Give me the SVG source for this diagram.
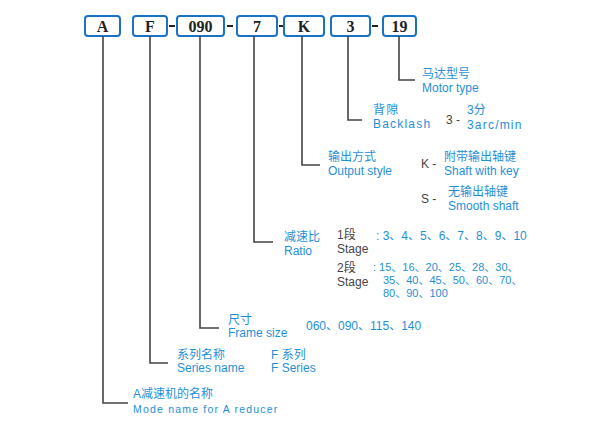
<svg xmlns="http://www.w3.org/2000/svg" width="600" height="423" viewBox="0 0 600 423">
<style>
.box{fill:#fff;stroke:#1a72c4;stroke-width:2}
.code{font-family:"Liberation Serif",serif;font-weight:bold;font-size:16px;fill:#222;text-anchor:middle}
.ln{stroke:#444;stroke-width:1.6;fill:none}
.t{font-family:"Liberation Sans","Noto Sans CJK SC",sans-serif;font-size:12px;fill:#1f8fd8}
.g{font-family:"Liberation Sans","Noto Sans CJK SC",sans-serif;font-size:12px;fill:#444}
.s{font-size:11px}
.sp{letter-spacing:1.2px}
</style>
<rect width="600" height="423" fill="#fff"/>
<g id="codes">
<rect class="box" x="85" y="16" width="35" height="20" rx="3"/><text class="code" x="102.5" y="31.5">A</text>
<rect class="box" x="133" y="16" width="34" height="20" rx="3"/><text class="code" x="150" y="31.5">F</text>
<rect class="box" x="177" y="16" width="47" height="20" rx="3"/><text class="code" x="200.5" y="31.5">090</text>
<rect class="box" x="237" y="16" width="40" height="20" rx="3"/><text class="code" x="257" y="31.5">7</text>
<rect class="box" x="284" y="16" width="40" height="20" rx="3"/><text class="code" x="304" y="31.5">K</text>
<rect class="box" x="331" y="16" width="39" height="20" rx="3"/><text class="code" x="350.5" y="31.5">3</text>
<rect class="box" x="383" y="16" width="33" height="20" rx="3"/><text class="code" x="399.5" y="31.5">19</text>
<g stroke="#222" stroke-width="2"><line x1="169" y1="26" x2="175" y2="26"/><line x1="227" y1="26" x2="233" y2="26"/><line x1="279" y1="26" x2="283" y2="26"/><line x1="372" y1="26" x2="378" y2="26"/></g>
</g>
<g id="connectors">
<path class="ln" d="M103 36V403H128"/>
<path class="ln" d="M150 36V363H168"/>
<path class="ln" d="M200 36V328H219"/>
<path class="ln" d="M254 36V242H273"/>
<path class="ln" d="M302 36V165H320"/>
<path class="ln" d="M348 36V120H362"/>
<path class="ln" d="M399 36V80H415"/>
</g>
<g id="motor"><text class="t" x="422" y="78">马达型号</text><text class="t" x="422" y="92">Motor type</text></g>
<g id="backlash"><text class="t sp" x="373" y="114">背隙</text><text class="t sp" x="373" y="128">Backlash</text>
<text class="g" x="446" y="124">3 -</text><text class="t" x="467" y="114">3分</text><text class="t sp" x="467" y="129">3arc/min</text></g>
<g id="output"><text class="t" x="328" y="161">输出方式</text><text class="t" x="328" y="175">Output style</text>
<text class="g" x="421" y="168">K -</text><text class="t" x="444" y="161">附带输出轴键</text><text class="t" x="444" y="175">Shaft with key</text>
<text class="g" x="421" y="203">S -</text><text class="t" x="448" y="196">无输出轴键</text><text class="t" x="448" y="210">Smooth shaft</text></g>
<g id="ratio"><text class="t" x="284" y="241">减速比</text><text class="t" x="284" y="255">Ratio</text>
<text class="g" x="337" y="239">1段</text><text class="g" x="337" y="253">Stage</text>
<text class="t" x="376" y="240">: 3、4、5、6、7、8、9、10</text>
<text class="g" x="337" y="272">2段</text><text class="g" x="337" y="286">Stage</text>
<text class="t s" x="373" y="271">: 15、16、20、25、28、30、</text>
<text class="t s" x="383" y="284">35、40、45、50、60、70、</text>
<text class="t s" x="383" y="297">80、90、100</text></g>
<g id="frame"><text class="t" x="228" y="324">尺寸</text><text class="t" x="228" y="337">Frame size</text><text class="t" x="306" y="330">060、090、115、140</text></g>
<g id="series"><text class="t" x="177" y="359">系列名称</text><text class="t" x="177" y="372">Series name</text><text class="t" x="271" y="359">F 系列</text><text class="t" x="271" y="372">F Series</text></g>
<g id="model"><text class="t" x="133" y="398">A减速机的名称</text><text class="t sp" x="133" y="413" style="font-size:10.5px">Mode name for A reducer</text></g>
</svg>
